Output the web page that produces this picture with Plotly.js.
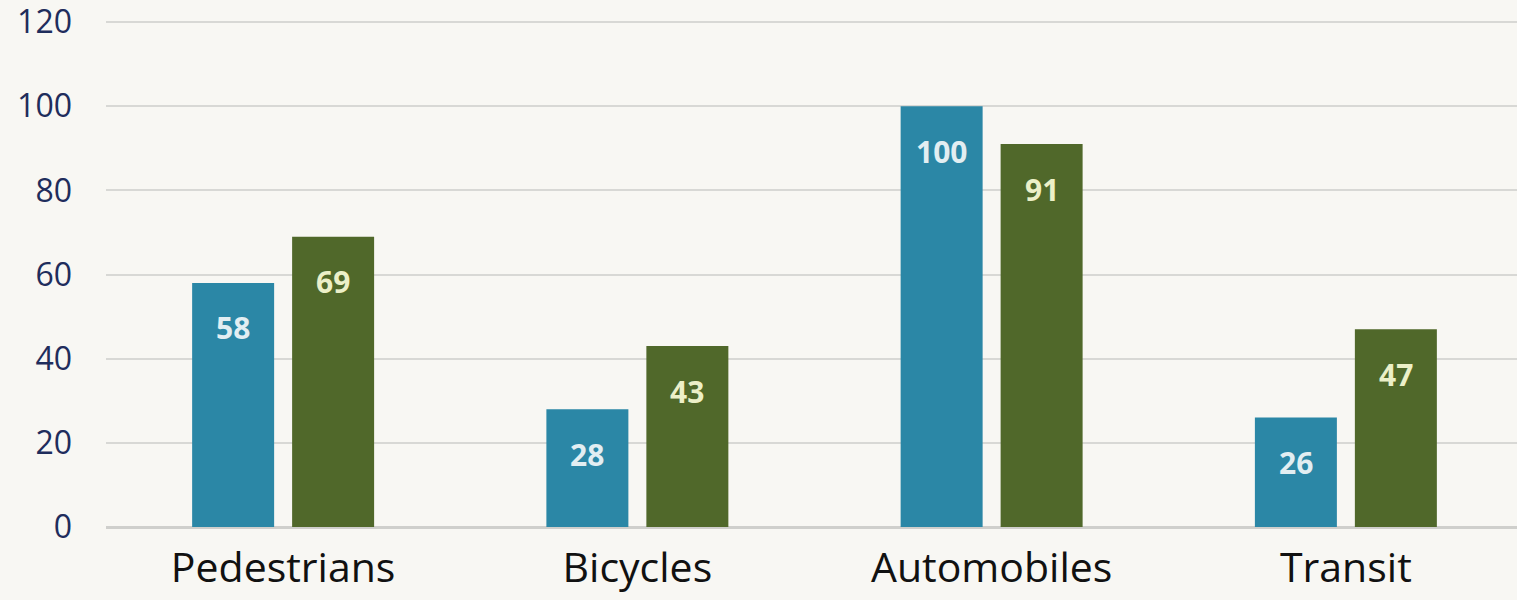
<!DOCTYPE html>
<html><head><meta charset="utf-8">
<script src="https://cdn.plot.ly/plotly-3.0.1.min.js"></script>
<style>html,body{margin:0;padding:0;overflow:hidden;background:#f8f7f3;}#chart{width:1523px;height:600px;}</style>
</head><body><div id="chart"></div>
<script>
const categories = ["Pedestrians", "Bicycles", "Automobiles", "Transit"];
const seriesA = [58, 28, 100, 26];
const seriesB = [69, 43, 91, 47];
const yTicks = [0, 20, 40, 60, 80, 100, 120];

const colorA = "#2b87a6", colorB = "#50682a";
const labelA = "#e2eef2", labelB = "#ecf0c8";
const bargap = 0.4355, bargroupgap = 0.18;
const slot = (1 - bargap) / 2;

const traces = [
  {type: "bar", x: categories, y: seriesA, marker: {color: colorA}, hoverinfo: "none"},
  {type: "bar", x: categories, y: seriesB, marker: {color: colorB}, hoverinfo: "none"}
];

const annotations = [];
[[seriesA, -slot / 2, labelA], [seriesB, slot / 2, labelB]].forEach(([vals, off, col]) => {
  vals.forEach((v, i) => {
    annotations.push({
      x: i + off, y: v, xref: "x", yref: "y", text: String(v), showarrow: false,
      yanchor: "middle", xanchor: "center", yshift: -45,
      font: {family: "Open Sans", size: 30, color: col, weight: 700}
    });
  });
});

const layout = {
  width: 1523, height: 600,
  margin: {l: 106, r: 0, t: 20, b: 73},
  paper_bgcolor: "#f8f7f3", plot_bgcolor: "#f8f7f3",
  showlegend: false,
  barmode: "group", bargap: bargap, bargroupgap: bargroupgap,
  xaxis: {
    type: "category", showgrid: false, zeroline: false, showline: false,
    ticks: "", tickfont: {family: "Open Sans", size: 41, color: "#111111"},
    ticklabelstandoff: 13, fixedrange: true
  },
  yaxis: {
    range: [0, 120.5], tickvals: yTicks, ticktext: yTicks.map(String),
    showgrid: true, gridcolor: "#d8d8d5", gridwidth: 2,
    zeroline: true, zerolinecolor: "#cfcfcc", zerolinewidth: 3,
    showline: false, ticks: "", ticklabeloverflow: "allow",
    tickfont: {family: "Open Sans", size: 32, color: "#1f2d5c"},
    ticklabelstandoff: 33, fixedrange: true
  },
  annotations: annotations
};

Plotly.newPlot("chart", traces, layout, {displayModeBar: false, staticPlot: true});
</script></body></html>
